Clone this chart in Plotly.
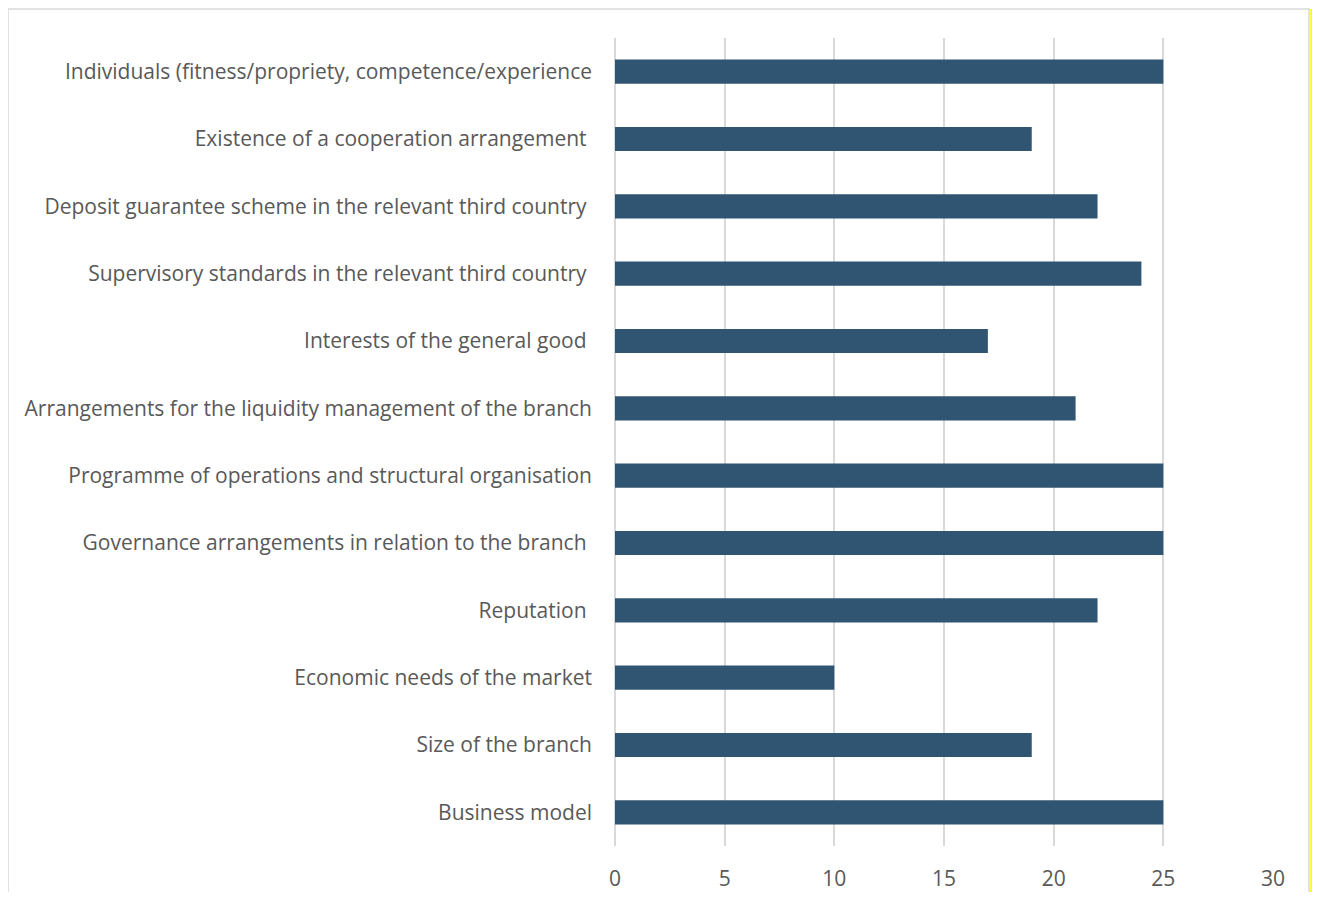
import plotly.graph_objects as go

categories = [
    "Business model",
    "Size of the branch",
    "Economic needs of the market",
    "Reputation\u00a0",
    "Governance arrangements in relation to the branch\u00a0",
    "Programme of operations and structural organisation",
    "Arrangements for the liquidity management of the branch",
    "Interests of the general good\u00a0",
    "Supervisory standards in the relevant third country\u00a0",
    "Deposit guarantee scheme in the relevant third country\u00a0",
    "Existence of a cooperation arrangement\u00a0",
    "Individuals (fitness/propriety, competence/experience",
]
values = [25, 19, 10, 22, 25, 25, 21, 17, 24, 22, 19, 25]
x_ticks = [0, 5, 10, 15, 20, 25, 30]

# page body has an 8px offset; keep the figure inside the viewport
OFF = 8
W, H = 1320 - OFF, 900 - 2 * OFF
# target plot area in screen pixels: x 615..1273, y 38..846
ML = 615 - OFF
MR = (W + OFF) - 1273
MT = 38 - OFF
MB = (H + OFF) - 846
pw, ph = W - ML - MR, H - MT - MB

def px(x):
    return (x - OFF - ML) / pw

def py(y):
    return (H - MB - (y - OFF)) / ph

fig = go.Figure(go.Bar(
    y=categories, x=values, orientation="h",
    marker=dict(color="#2F5572", line=dict(width=0)),
))

fig.update_layout(
    width=W, height=H, autosize=False,
    margin=dict(l=ML, r=MR, t=MT, b=MB, pad=0, autoexpand=False),
    paper_bgcolor="white", plot_bgcolor="white",
    bargap=0.64, showlegend=False,
    font=dict(family="Open Sans", size=21, color="#595959"),
    xaxis=dict(range=[0, 30], tickvals=x_ticks, showgrid=True, automargin=False,
               gridcolor="#D9D9D9", gridwidth=1.5, zeroline=True,
               zerolinecolor="#D9D9D9", zerolinewidth=1.5, showline=False,
               ticks="", ticklabelstandoff=18, tickfont=dict(size=21, color="#595959")),
    yaxis=dict(showgrid=False, zeroline=False, showline=False, ticks="", automargin=False,
               ticklabelstandoff=22, tickfont=dict(size=21, color="#595959")),
    shapes=[
        dict(type="rect", xref="paper", yref="paper",
             x0=px(8), x1=px(1309), y0=py(930), y1=py(9),
             line=dict(color="#D9D9D9", width=1.5), fillcolor="rgba(0,0,0,0)", layer="below"),
        dict(type="line", xref="paper", yref="paper",
             x0=px(1311.5), x1=px(1311.5), y0=py(910), y1=py(9),
             line=dict(color="#FFFF00", width=2.5), layer="above"),
    ],
)

fig.write_html("out.html")
